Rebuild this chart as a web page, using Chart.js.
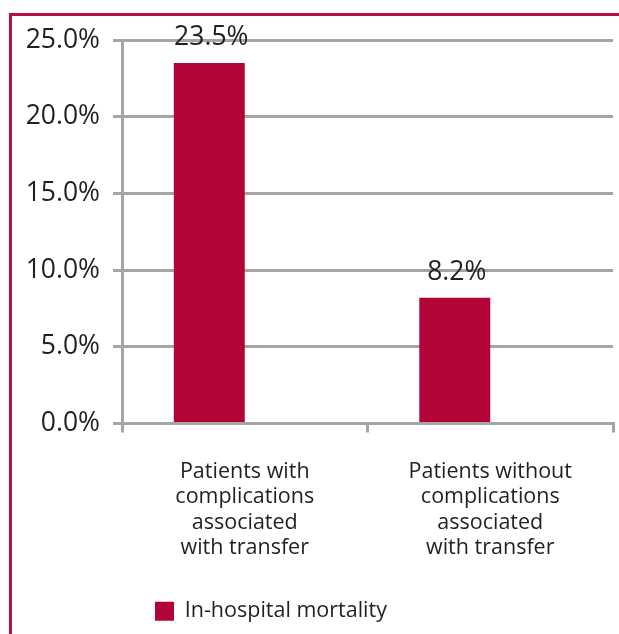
<!DOCTYPE html>
<html lang="en">
<head>
  <meta charset="UTF-8" />
  <title>In-hospital mortality</title>
  <script src="https://cdn.jsdelivr.net/npm/chart.js"></script>
  <style>
    body {
      margin: 0;
      padding: 0;
      background: #fff;
      overflow: hidden;
    }
    .wrap {
      position: relative;
      width: 619px;
      height: 634px;
    }
    .frame {
      position: absolute;
      left: 9px;
      top: 13px;
      right: -10px;
      bottom: -10px;
      border-top: 3px solid #b5103f;
      border-left: 3px solid #b5103f;
    }
    canvas {
      position: absolute;
      left: 0;
      top: 0;
      display: block;
    }
  </style>
</head>
<body>

  <div class="wrap">
    <div class="frame"></div>
    <canvas id="barChart" width="619" height="634"></canvas>
  </div>

  <script>
    // chart data
    const categories = [
      ['Patients with', 'complications', 'associated', 'with transfer'],
      ['Patients without', 'complications', 'associated', 'with transfer']
    ];
    const mortality = [23.5, 8.2];
    // the original has a second, empty series next to each bar
    const emptySeries = [null, null];
    const yTicks = [0, 5, 10, 15, 20, 25];

    const barColor = '#b30438';
    const gridColor = '#a5a5a8';
    const textColor = '#231f20';
    const fontFamily = "'Open Sans', 'Noto Sans', sans-serif";

    // value labels above the bars
    const barLabels = {
      id: 'barLabels',
      afterDatasetsDraw(chart) {
        const ctx = chart.ctx;
        const meta = chart.getDatasetMeta(0);
        ctx.save();
        ctx.font = `26.5px ${fontFamily}`;
        ctx.fillStyle = textColor;
        ctx.textAlign = 'center';
        ctx.textBaseline = 'alphabetic';
        meta.data.forEach((bar, i) => {
          const v = mortality[i];
          if (v == null) return;
          ctx.fillText(v.toFixed(1) + '%', bar.x + 2, bar.y - 18);
        });
        ctx.restore();
      }
    };

    const ctx = document.getElementById('barChart').getContext('2d');
    const chart = new Chart(ctx, {
      type: 'bar',
      data: {
        labels: categories,
        datasets: [
          {
            label: 'In-hospital mortality',
            data: mortality,
            backgroundColor: barColor,
            borderWidth: 0
          },
          {
            label: '',
            data: emptySeries,
            backgroundColor: 'rgba(0,0,0,0)',
            borderWidth: 0
          }
        ]
      },
      options: {
        responsive: false,
        animation: false,
        layout: {
          padding: { top: 40, right: 6, bottom: 2, left: 0 }
        },
        datasets: {
          bar: {
            categoryPercentage: 0.578,
            barPercentage: 1
          }
        },
        plugins: {
          legend: {
            position: 'bottom',
            align: 'start',
            fullSize: false,
            labels: {
              boxWidth: 19,
              boxHeight: 19,
              padding: 33,
              color: textColor,
              font: { family: fontFamily, size: 21.5 },
              filter: item => item.datasetIndex === 0
            }
          },
          tooltip: { enabled: false }
        },
        scales: {
          x: {
            afterFit: scale => { scale.height = 144; },
            grid: {
              drawOnChartArea: false,
              drawTicks: true,
              tickLength: 9,
              color: gridColor,
              lineWidth: 3
            },
            border: { display: true, color: gridColor, width: 3 },
            ticks: {
              padding: 27,
              color: textColor,
              font: { family: fontFamily, size: 21.5, lineHeight: 1.17 }
            }
          },
          y: {
            min: 0,
            max: 25,
            afterFit: scale => { scale.width = 122; },
            afterBuildTicks: scale => {
              scale.ticks = yTicks.map(v => ({ value: v }));
            },
            grid: {
              tickLength: 9,
              color: gridColor,
              lineWidth: 3
            },
            border: { display: true, color: gridColor, width: 3 },
            ticks: {
              padding: 13,
              color: textColor,
              font: { family: fontFamily, size: 26.5 },
              callback: v => v.toFixed(1) + '%'
            }
          }
        }
      },
      plugins: [barLabels]
    });
  </script>

</body>
</html>
